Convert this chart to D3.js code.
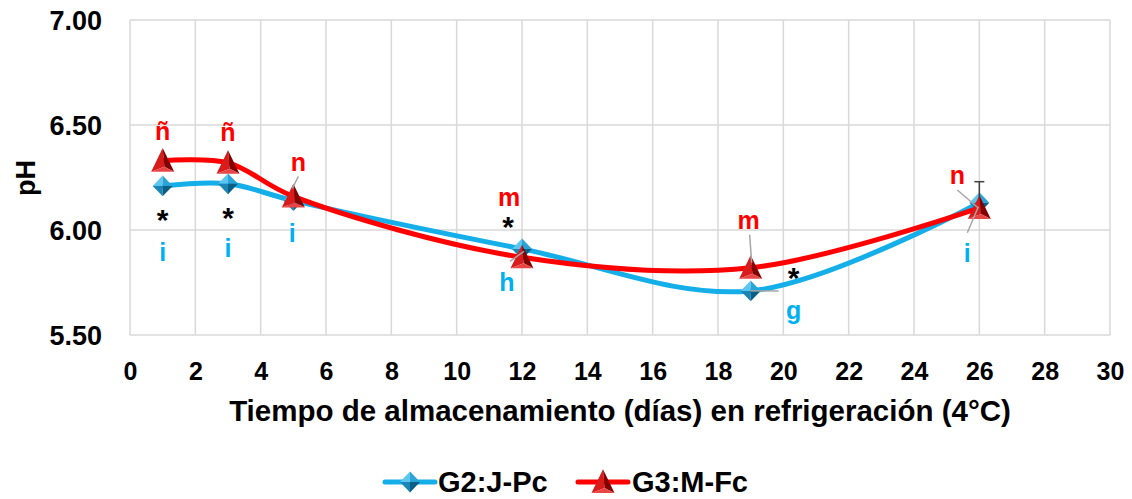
<!DOCTYPE html>
<html>
<head>
<meta charset="utf-8">
<script src="https://cdn.jsdelivr.net/npm/d3@7"></script>
<style>
  html, body { margin: 0; padding: 0; background: #fff; }
  svg { display: block; font-family: "Liberation Sans", Arial, sans-serif; font-weight: bold; }
</style>
</head>
<body>
<svg id="chart" width="1132" height="499"></svg>
<script>
// ---------------- DATA ----------------
const days = [1, 3, 5, 12, 19, 26];
const g2Values = [6.21, 6.22, 6.14, 5.91, 5.71, 6.13];
const g3Values = [6.33, 6.32, 6.16, 5.87, 5.82, 6.105];
const g2Errors = [0, 0, 0, 0, 0, 0.10];
const g2Letters = ["i", "i", "i", "h", "g", "i"];
const g3Letters = ["ñ", "ñ", "n", "m", "m", "n"];
const asteriskFlags = [true, true, false, true, true, false];
const xTickValues = d3.range(0, 31, 2);
const yTickValues = [5.5, 6.0, 6.5, 7.0];
const seriesNames = ["G2:J-Pc", "G3:M-Fc"];
const xTitle = "Tiempo de almacenamiento (días) en refrigeración (4°C)";
const yTitle = "pH";

// ---------------- LAYOUT (annotation offsets, px relative to marker) ----------------
const g3LabelOffsets = [[0, -29], [0, -31], [5, -34], [-13, -60], [-2, -48], [-22, -33]];
const g2LabelOffsets = [[0, 66], [0, 64], [-1, 33], [-15, 33], [43, 19], [-12, 51]];
const asteriskOffsets = [[0, 34], [0, 34], [0, 0], [-14, -22], [43, -13], [0, 0]];
// leader lines: [seriesIndex (0=g2,1=g3), pointIndex, fromDx, fromDy, toDx, toDy]
const leaders = [
  [1, 2, 5, -20, -1, -8],
  [1, 3, -12, 4, 2, -6],
  [1, 4, -1, -33, 1, -5],
  [0, 4, 0, 0, 28, 0],
  [1, 5, -22, -18, -1, 0],
  [0, 5, -12, 30, -1, 4]
];

const BLUE = "#14aee9";
const BLUE_TEXT = "#00b0f0";
const RED = "#ff0000";
const GRID = "#d9d9d9";

// ---------------- CHART ----------------
const svg = d3.select("#chart");
const margin = { left: 130, right: 22, top: 20, bottom: 164 };
const W = 1132, H = 499;
const x = d3.scaleLinear().domain([0, 30]).range([margin.left, W - margin.right]);
const y = d3.scaleLinear().domain([5.5, 7.0]).range([H - margin.bottom, margin.top]);

// gridlines
const grid = svg.append("g");
grid.selectAll("line.v").data(xTickValues).join("line")
  .attr("x1", d => x(d)).attr("x2", d => x(d))
  .attr("y1", y(5.5)).attr("y2", y(7.0))
  .attr("stroke", GRID).attr("stroke-width", 1.5);
grid.selectAll("line.h").data(yTickValues).join("line")
  .attr("x1", x(0)).attr("x2", x(30))
  .attr("y1", d => y(d)).attr("y2", d => y(d))
  .attr("stroke", GRID).attr("stroke-width", 1.5);

// axes (labels only)
const xAxis = d3.axisBottom(x).tickValues(xTickValues).tickSize(0).tickPadding(0).tickFormat(d3.format("d"));
const gx = svg.append("g").attr("transform", `translate(0,${y(5.5)})`).call(xAxis);
gx.select(".domain").remove();
gx.selectAll("text").attr("font-size", 25).attr("font-weight", "bold").attr("fill", "#000")
  .attr("font-family", "Liberation Sans, Arial, sans-serif").attr("dy", "0").attr("y", 45);

const yAxis = d3.axisLeft(y).tickValues(yTickValues).tickSize(0).tickPadding(0).tickFormat(d3.format(".2f"));
const gy = svg.append("g").attr("transform", `translate(${x(0) - 28},0)`).call(yAxis);
gy.select(".domain").remove();
gy.selectAll("text").attr("font-size", 27).attr("font-weight", "bold").attr("fill", "#000")
  .attr("font-family", "Liberation Sans, Arial, sans-serif").attr("dy", "0.36em").attr("x", 0);

// titles
svg.append("text").attr("x", 620).attr("y", 421).attr("text-anchor", "middle")
  .attr("font-size", 29.5).attr("fill", "#000").text(xTitle);
svg.append("text").attr("transform", "translate(35,178) rotate(-90)").attr("text-anchor", "middle")
  .attr("font-size", 27).attr("fill", "#000").text(yTitle);

// marker shapes
function diamond(g, cx, cy, s) {
  const w = s * 0.5, h = s * 0.52;
  const T = [cx, cy - h], R = [cx + w, cy], B = [cx, cy + h], L = [cx - w, cy], C = [cx, cy];
  const faces = [
    [[T, C, L], "#5cc6ee"],
    [[T, R, C], "#2aa3d6"],
    [[L, C, B], "#1b86b6"],
    [[C, R, B], "#0b5e86"]
  ];
  faces.forEach(([pts, col]) => {
    g.append("path").attr("d", "M" + pts.map(p => p.join(",")).join("L") + "Z").attr("fill", col);
  });
}
function triangle(g, cx, cy, s) {
  const w = s * 0.5, top = cy - s * 0.55, bot = cy + s * 0.48;
  const A = [cx, top], BL = [cx - w, bot], BR = [cx + w, bot], C = [cx + w * 0.15, bot - s * 0.22];
  const faces = [
    [[A, BL, C], "#d81c1c"],
    [[A, C, BR], "#820000"],
    [[BL, BR, C], "#e84545"]
  ];
  faces.forEach(([pts, col]) => {
    g.append("path").attr("d", "M" + pts.map(p => p.join(",")).join("L") + "Z").attr("fill", col);
  });
}

const line = d3.line().x(d => x(d[0])).y(d => y(d[1])).curve(d3.curveCatmullRom.alpha(0.5));
const g2Pts = days.map((d, i) => [d, g2Values[i]]);
const g3Pts = days.map((d, i) => [d, g3Values[i]]);

// G2 series
svg.append("path").datum(g2Pts).attr("d", line).attr("fill", "none")
  .attr("stroke", BLUE).attr("stroke-width", 5).attr("stroke-linecap", "round");
const g2m = svg.append("g");
g2Pts.forEach(p => diamond(g2m, x(p[0]), y(p[1]), 20));

// error bar G2
const eb = svg.append("g");
days.forEach((d, i) => {
  if (!g2Errors[i]) return;
  const cx = x(d);
  eb.append("line").attr("x1", cx).attr("x2", cx).attr("y1", y(g2Values[i])).attr("y2", y(g2Values[i] + g2Errors[i]))
    .attr("stroke", "#404040").attr("stroke-width", 1.5);
  eb.append("line").attr("x1", cx - 5).attr("x2", cx + 5).attr("y1", y(g2Values[i] + g2Errors[i])).attr("y2", y(g2Values[i] + g2Errors[i]))
    .attr("stroke", "#404040").attr("stroke-width", 1.5);
});

// G3 series
svg.append("path").datum(g3Pts).attr("d", line).attr("fill", "none")
  .attr("stroke", RED).attr("stroke-width", 5).attr("stroke-linecap", "round");
const g3m = svg.append("g");
g3Pts.forEach(p => triangle(g3m, x(p[0]), y(p[1]), 23));

// leader lines
const seriesVals = [g2Values, g3Values];
svg.append("g").selectAll("line").data(leaders).join("line")
  .attr("x1", d => x(days[d[1]]) + d[2]).attr("y1", d => y(seriesVals[d[0]][d[1]]) + d[3])
  .attr("x2", d => x(days[d[1]]) + d[4]).attr("y2", d => y(seriesVals[d[0]][d[1]]) + d[5])
  .attr("stroke", "#a6a6a6").attr("stroke-width", 1.5);

// letter labels
const lab = svg.append("g").attr("text-anchor", "middle").attr("font-size", 25);
days.forEach((d, i) => {
  lab.append("text").attr("x", x(d) + g3LabelOffsets[i][0]).attr("y", y(g3Values[i]) + g3LabelOffsets[i][1])
    .attr("dy", "0.35em").attr("fill", RED).text(g3Letters[i]);
  lab.append("text").attr("x", x(d) + g2LabelOffsets[i][0]).attr("y", y(g2Values[i]) + g2LabelOffsets[i][1])
    .attr("dy", "0.35em").attr("fill", BLUE_TEXT).text(g2Letters[i]);
  if (asteriskFlags[i]) {
    lab.append("text").attr("x", x(d) + asteriskOffsets[i][0]).attr("y", y(g2Values[i]) + asteriskOffsets[i][1])
      .attr("dy", "0.35em").attr("font-size", 30).attr("fill", "#000").text("*");
  }
});

// legend
const leg = svg.append("g");
const ly = 482;
leg.append("line").attr("x1", 385).attr("x2", 435).attr("y1", ly).attr("y2", ly)
  .attr("stroke", BLUE).attr("stroke-width", 5).attr("stroke-linecap", "round");
diamond(leg, 410, ly, 20);
leg.append("text").attr("x", 438).attr("y", ly + 10).attr("font-size", 29).attr("fill", "#000").text(seriesNames[0]);
leg.append("line").attr("x1", 578).attr("x2", 628).attr("y1", ly).attr("y2", ly)
  .attr("stroke", RED).attr("stroke-width", 5).attr("stroke-linecap", "round");
triangle(leg, 603, ly, 23);
leg.append("text").attr("x", 632).attr("y", ly + 10).attr("font-size", 29).attr("fill", "#000").text(seriesNames[1]);
</script>
</body>
</html>
